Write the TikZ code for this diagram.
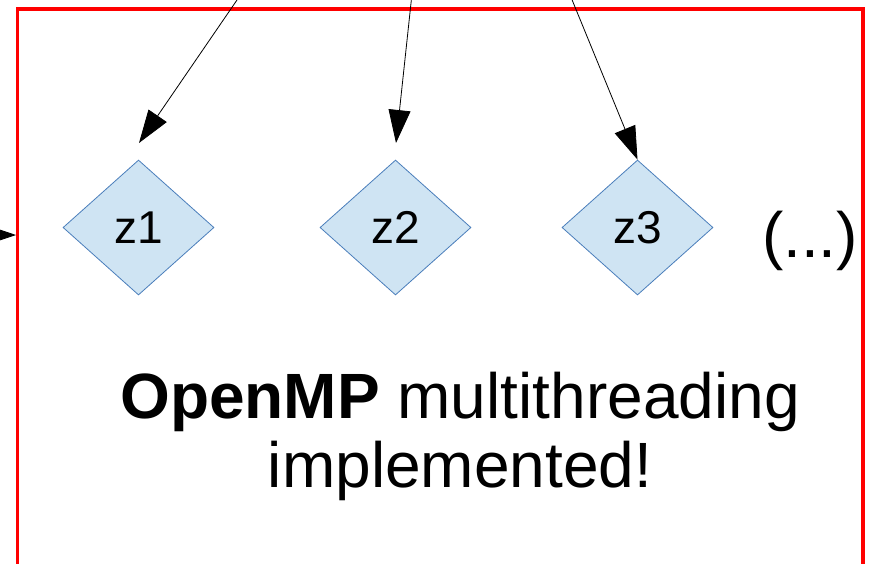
\documentclass[tikz,border=0pt]{standalone}
\usepackage{fontspec}
\setmainfont{Liberation Sans}
\usetikzlibrary{shapes.geometric,arrows.meta}
\definecolor{stepfill}{HTML}{CFE4F3}
\definecolor{stepline}{HTML}{4A7EBB}
\definecolor{frame}{HTML}{FF0000}
\tikzset{
  decision/.style={diamond, draw=stepline, line width=0.8pt, fill=stepfill,
    minimum width=151pt, minimum height=135pt, shape aspect=1.12, inner sep=0pt,
    font=\fontsize{46}{50}\selectfont},
  flow/.style={line width=0.8pt, -{Triangle[length=33pt,width=22pt]}},
  region/.style={draw=frame, line width=3.6pt},
}
\begin{document}
\begin{tikzpicture}[x=1pt,y=-1pt]
  \useasboundingbox (0,0) rectangle (874,563);
  \clip (0,0) rectangle (874,563);
  \fill[white] (0,0) rectangle (874,563);

  % parallel region frame (continues below the page)
  \draw[region] (17.5,600) |- (863,8.8) -- (863,600);

  % loop bodies handed to threads
  \node[decision] (z1) at (138.5,227.5) {z1};
  \node[decision] (z2) at (395.5,227.5) {z2};
  \node[decision] (z3) at (637.5,227.5) {z3};
  \node[font=\fontsize{64}{70}\selectfont, anchor=base] (more) at (810,257) {(...)};

  \node[font=\fontsize{64}{69}\selectfont, align=center, anchor=base] (note) at (460,487)
    {\textbf{OpenMP} multithreading\\implemented!};

  % incoming work items from above
  \coordinate (s1) at (256.6,-28.6);
  \coordinate (t1) at (139,143);
  \coordinate (s2) at (414.4,-28.6);
  \coordinate (t2) at (396,143);
  \coordinate (s3) at (560.4,-28.6);
  \coordinate (s0) at (-40,235);
  \coordinate (t0) at (16,235);

  \draw[flow] (s1) -- (t1);
  \draw[flow] (s2) -- (t2);
  \draw[flow] (s3) -- (z3.north);
  \draw[flow] (s0) -- (t0);
\end{tikzpicture}
\end{document}
